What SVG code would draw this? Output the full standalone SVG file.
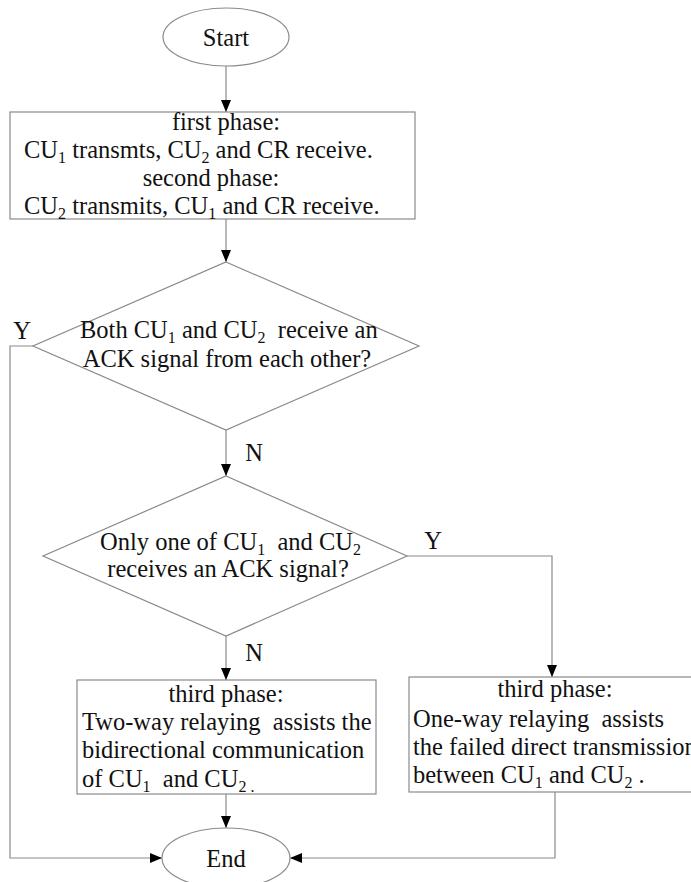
<svg xmlns="http://www.w3.org/2000/svg" width="691" height="882" viewBox="0 0 691 882">
<defs>
<marker id="arr" markerWidth="12" markerHeight="10" refX="14" refY="5" orient="auto" markerUnits="userSpaceOnUse" viewBox="0 0 14 10" preserveAspectRatio="none">
<path d="M0,0 L14,5 L0,10 Z" fill="#000"/>
</marker>
<style>
.shape{fill:#fff;stroke:#8a8a8a;stroke-width:1.2}
.ln{fill:none;stroke:#8a8a8a;stroke-width:1.2}
text{font-family:"Liberation Serif","Times New Roman",serif;font-size:24.5px;fill:#111;white-space:pre}
.c{text-anchor:middle}
.s{font-size:16px}
</style>
</defs>
<rect width="691" height="882" fill="#fff"/>
<g id="connectors">
<line class="ln" x1="226" y1="66" x2="226" y2="112" marker-end="url(#arr)"/>
<line class="ln" x1="226" y1="219" x2="226" y2="262" marker-end="url(#arr)"/>
<line class="ln" x1="226" y1="430" x2="226" y2="476" marker-end="url(#arr)"/>
<line class="ln" x1="226" y1="636" x2="226" y2="680" marker-end="url(#arr)"/>
<line class="ln" x1="226" y1="794" x2="226" y2="828" marker-end="url(#arr)"/>
<polyline class="ln" points="33,346 10,346 10,858 162,858" marker-end="url(#arr)"/>
<polyline class="ln" points="407,556 552,556 552,677" marker-end="url(#arr)"/>
<polyline class="ln" points="555,792 555,858 290,858" marker-end="url(#arr)"/>
<text x="22" y="339" class="c">Y</text>
<text x="254" y="461" class="c">N</text>
<text x="433" y="549" class="c">Y</text>
<text x="254" y="661" class="c">N</text>
</g>
<g id="start">
<ellipse class="shape" cx="226" cy="37" rx="63" ry="29"/>
<text x="226" y="46" class="c">Start</text>
</g>
<g id="phase12">
<rect class="shape" x="10" y="112" width="405" height="107"/>
<text x="226" y="130" class="c">first phase:</text>
<text x="24" y="158">CU<tspan class="s" dy="5">1</tspan><tspan dy="-5"> transmts, CU</tspan><tspan class="s" dy="5">2</tspan><tspan dy="-5"> and CR receive.</tspan></text>
<text x="211" y="186" class="c">second phase:</text>
<text x="24" y="214">CU<tspan class="s" dy="5">2</tspan><tspan dy="-5"> transmits, CU</tspan><tspan class="s" dy="5">1</tspan><tspan dy="-5"> and CR receive.</tspan></text>
</g>
<g id="decision1">
<polygon class="shape" points="226,262 419,346 226,430 33,346"/>
<text x="80" y="338">Both CU<tspan class="s" dy="5">1</tspan><tspan dy="-5"> and CU</tspan><tspan class="s" dy="5">2</tspan><tspan dy="-5">  receive an</tspan></text>
<text x="227" y="367" class="c">ACK signal from each other?</text>
</g>
<g id="decision2">
<polygon class="shape" points="226,476 407,556 226,636 43,556"/>
<text x="100" y="550">Only one of CU<tspan class="s" dy="5">1</tspan><tspan dy="-5">  and CU</tspan><tspan class="s" dy="5">2</tspan></text>
<text x="228" y="577" class="c">receives an ACK signal?</text>
</g>
<g id="twoway">
<rect class="shape" x="77" y="680" width="299" height="114"/>
<text x="226" y="702" class="c">third phase:</text>
<text x="82" y="730">Two-way relaying  assists the</text>
<text x="82" y="758">bidirectional communication</text>
<text x="82" y="787">of CU<tspan class="s" dy="5">1</tspan><tspan dy="-5">  and CU</tspan><tspan class="s" dy="5">2 .</tspan></text>
</g>
<g id="oneway">
<rect class="shape" x="409" y="677" width="292" height="115"/>
<text x="555" y="697" class="c">third phase:</text>
<text x="413" y="727">One-way relaying  assists</text>
<text x="413" y="755">the failed direct transmission</text>
<text x="413" y="783">between CU<tspan class="s" dy="5">1</tspan><tspan dy="-5"> and CU</tspan><tspan class="s" dy="5">2</tspan><tspan dy="-5"> .</tspan></text>
</g>
<g id="end">
<ellipse class="shape" cx="226" cy="858" rx="64" ry="30"/>
<text x="226" y="867" class="c">End</text>
</g>
</svg>
